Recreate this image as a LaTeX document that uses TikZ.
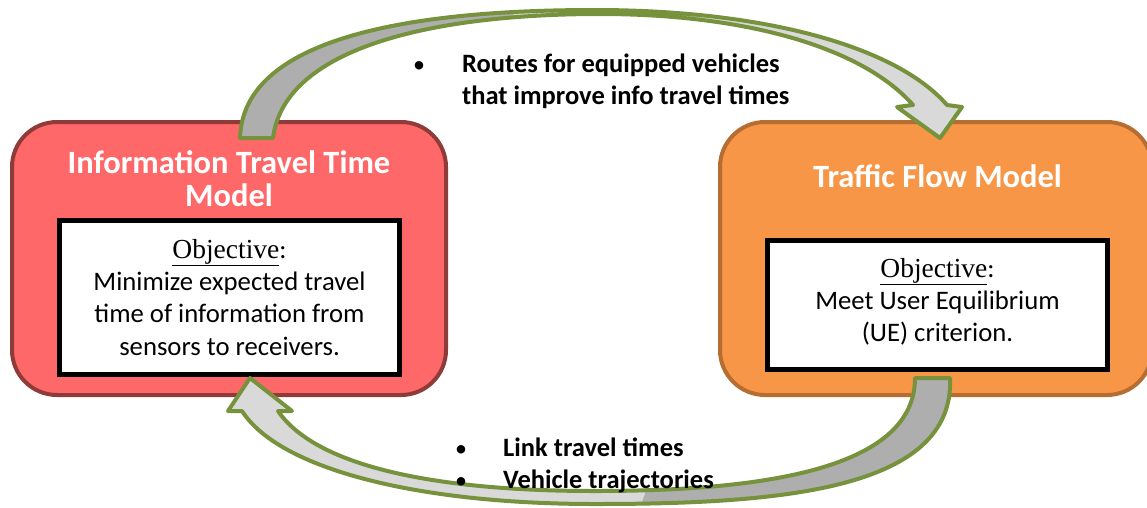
\documentclass[tikz,border=0pt]{standalone}
\usepackage{fontspec}
\setmainfont{Carlito}
\newfontfamily\objserif{Liberation Serif}
\definecolor{infofill}{HTML}{FF6868}
\definecolor{infoline}{HTML}{8E3B39}
\definecolor{flowfill}{HTML}{F79646}
\definecolor{flowline}{HTML}{B66D31}
\definecolor{arrowline}{HTML}{76923C}
\definecolor{arrowdark}{HTML}{AEAEAE}
\definecolor{arrowlight}{HTML}{D9D9D9}
\newcommand\ttlsize{\fontsize{32.5}{33}\selectfont\bfseries}
\newcommand\txtsize{\fontsize{26.7}{32}\selectfont}
\newcommand\bulsize{\fontsize{26.5}{32}\selectfont\bfseries}
\newcommand\dotsize{\fontsize{24}{32}\selectfont}
\newcommand\objword{\objserif\fontsize{27.5}{32}\selectfont}
\begin{document}
\begin{tikzpicture}[x=1pt,y=-1pt,
  modelbox/.style={draw=#1, line width=4pt, rounded corners=45pt, inner sep=0pt},
  objbox/.style={draw=black, fill=white, line width=4.5pt, inner sep=0pt},
  ttl/.style={anchor=base, inner sep=0pt, text=white, font=\ttlsize},
  txt/.style={anchor=base, inner sep=0pt, font=\txtsize},
  bul/.style={anchor=base west, inner sep=0pt, font=\bulsize},
  dot/.style={anchor=base, inner sep=0pt, font=\dotsize},
  blockarrow/.style={draw=arrowline, line width=4pt, line join=round}]
\useasboundingbox (0,0) rectangle (1147,507);

% the two models
\node[modelbox=infoline, fill=infofill, minimum width=434pt, minimum height=273pt] (info) at (229,258.5) {};
\node[modelbox=flowline, fill=flowfill, minimum width=432pt, minimum height=273pt] (flow) at (936,258.5) {};

\node[objbox, minimum width=340pt, minimum height=154pt] (infoobj) at (229.5,297.5) {};
\node[objbox, minimum width=340pt, minimum height=129pt] (flowobj) at (937.5,305) {};

% titles
\node[ttl] (infot1) at (229,173) {Information Travel Time};
\node[ttl] (infot2) at (229,206) {Model};
\node[ttl] (flowt) at (937.5,187) {Traffic Flow Model};

% objectives
\node[txt] (infoo0) at (229.5,258) {{\objword\underline{Objective}}:};
\node[txt] (infoo1) at (229.5,290) {Minimize expected travel};
\node[txt] (infoo2) at (229.5,322) {time of information from};
\node[txt] (infoo3) at (229.5,355) {sensors to receivers.};

\node[txt] (flowo0) at (937.5,277) {{\objword\underline{Objective}}:};
\node[txt] (flowo1) at (937.5,309) {Meet User Equilibrium};
\node[txt] (flowo2) at (937.5,341) {(UE) criterion.};

% upper curved arrow: information model -> traffic flow model
\path[save path=\toppath]
  (240,138) .. controls (243,32) and (430,10) .. (595,10)
  .. controls (760,10) and (895,45) .. (947,105)
  -- (962,107) -- (940,138) -- (897,107) -- (913,105)
  .. controls (860,45) and (740,14) .. (600,14)
  .. controls (440,14) and (285,45) .. (273,138) -- cycle;
\fill[arrowlight, use path=\toppath];
\begin{scope}
  \clip[use path=\toppath];
  \fill[arrowdark] (200,0) -- (520,0) -- (430,200) -- (200,200) -- cycle;
\end{scope}
\draw[blockarrow, use path=\toppath];

% lower curved arrow: traffic flow model -> information model
\path[save path=\botpath]
  (950,378) .. controls (955,490) and (780,504) .. (595,504)
  .. controls (420,504) and (280,470) .. (242,411)
  -- (228,411) -- (250,378) -- (292,411) -- (278,411)
  .. controls (315,465) and (430,491) .. (595,491)
  .. controls (760,491) and (915,470) .. (915,378) -- cycle;
\fill[arrowlight, use path=\botpath];
\begin{scope}
  \clip[use path=\botpath];
  \fill[arrowdark] (700,350) -- (1000,350) -- (1000,507) -- (640,507) -- cycle;
\end{scope}
\draw[blockarrow, use path=\botpath];

% arrow labels
\node[dot] (d1) at (419,72) {•};
\node[bul] (l1) at (462,72) {Routes for equipped vehicles};
\node[bul] (l2) at (462,104) {that improve info travel times};
\node[dot] (d2) at (461,456) {•};
\node[bul] (l3) at (503,456) {Link travel times};
\node[dot] (d3) at (461,488) {•};
\node[bul] (l4) at (503,488) {Vehicle trajectories};
\end{tikzpicture}
\end{document}
